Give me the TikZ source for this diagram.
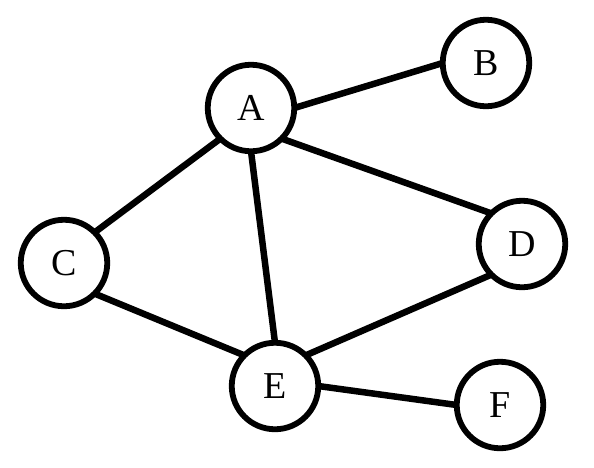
\documentclass[tikz,border=0pt]{standalone}
\usepackage{fontspec}
\setmainfont{Liberation Serif}
\begin{document}
\begin{tikzpicture}[x=1pt,y=-1pt,
  vert/.style={circle,draw,line width=5.8pt,minimum size=86.5pt,inner sep=0pt,outer sep=0pt,font=\fontsize{38}{38}\selectfont},
  edge/.style={line width=6.5pt}]
\useasboundingbox (0,0) rectangle (594,467);
\node[vert] (A) at (251,108) {A};
\node[vert] (B) at (486,63) {B};
\node[vert] (C) at (64,263) {C};
\node[vert] (D) at (522,244) {D};
\node[vert] (E) at (275,386) {E};
\node[vert] (F) at (500,405) {F};
\draw[edge] (A.east) -- (B.west);
\draw[edge] (A.south west) -- (C.north east);
\draw[edge] (A.south east) -- (D.north west);
\draw[edge] (A.south) -- (E.north);
\draw[edge] (C.south east) -- (E.north west);
\draw[edge] (D.south west) -- (E.north east);
\draw[edge] (E.east) -- (F.west);
\end{tikzpicture}
\end{document}
